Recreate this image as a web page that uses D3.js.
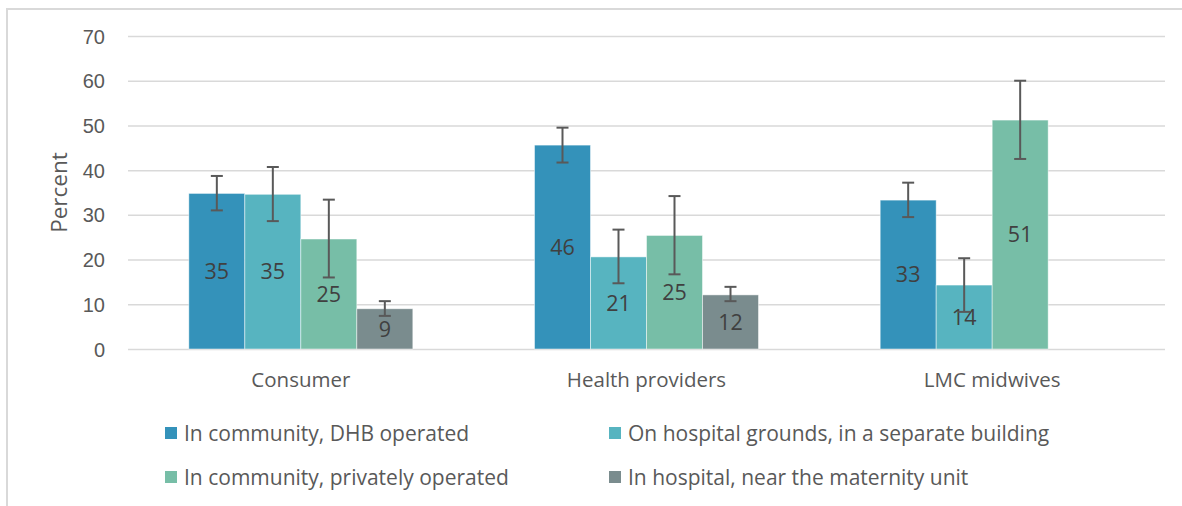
<!DOCTYPE html>
<html>
<head>
    <meta charset="utf-8">
    <style type="text/css">
        body { margin: 0; background: #fff; }
        svg { display: block; font-family: "Open Sans", sans-serif; }
        .grid line { stroke: #d9d9d9; stroke-width: 1.5px; }
        .grid path { display: none; }
        .grid text { font-size: 20px; fill: #595959; }
        .catLabel { font-size: 20.5px; fill: #595959; text-anchor: middle; }
        .valLabel { font-size: 21.5px; fill: #404040; text-anchor: middle; }
        .legend text { font-size: 21px; fill: #595959; }
    </style>
    <script src="https://d3js.org/d3.v7.min.js"></script>
</head>
<body>
    <svg id="mySvg" width="1182" height="506"></svg>
</body>
<script type="text/javascript">
// categories and series
const categories = ['Consumer', 'Health providers', 'LMC midwives'];
const seriesNames = [
    'In community, DHB operated',
    'On hospital grounds, in a separate building',
    'In community, privately operated',
    'In hospital, near the maternity unit'
];
const seriesColors = ['#3492ba', '#57b4c0', '#77bea7', '#7a8c8e'];

// one array per series, values in category order (null = no bar)
const dhbCommunity   = [34.8, 45.6, 33.3];
const hospitalGround = [34.6, 20.6, 14.3];
const privCommunity  = [24.6, 25.4, 51.2];
const nearMaternity  = [9.0, 12.1, null];

// error bar ends
const errLow  = [[31.0, 41.7, 29.5], [28.6, 14.7, 8.3], [16.0, 16.7, 42.5], [7.4, 10.7, null]];
const errHigh = [[38.7, 49.5, 37.2], [40.7, 26.7, 20.3], [33.4, 34.2, 60.0], [10.7, 13.9, null]];

const yTicks = [0, 10, 20, 30, 40, 50, 60, 70];

const seriesValues = [dhbCommunity, hospitalGround, privCommunity, nearMaternity];

// flatten into records for binding
const records = [];
seriesValues.forEach((vals, s) => {
    vals.forEach((v, c) => {
        if (v === null) return;
        records.push({ series: s, cat: categories[c], value: v, lo: errLow[s][c], hi: errHigh[s][c] });
    });
});

const svg = d3.select('#mySvg');

// frame around the chart area
svg.append('path')
    .attr('d', 'M7,506 V9 H1182')
    .attr('fill', 'none')
    .attr('stroke', '#d9d9d9')
    .attr('stroke-width', 2);

const plot = { left: 128, right: 1165, top: 36, bottom: 349 };

const x = d3.scaleBand()
    .domain(categories)
    .range([plot.left, plot.right])
    .paddingInner(0)
    .paddingOuter(0);

const groupWidth = 224; // four bars side by side
const xInner = d3.scaleBand()
    .domain(d3.range(seriesNames.length))
    .range([0, groupWidth]);

const y = d3.scaleLinear()
    .domain([0, 70])
    .range([plot.bottom, plot.top]);

// gridlines + tick labels
svg.append('g')
    .attr('class', 'grid')
    .attr('transform', 'translate(' + plot.left + ',0)')
    .call(d3.axisLeft(y)
        .tickValues(yTicks)
        .tickSize(-(plot.right - plot.left))
        .tickPadding(23)
        .tickFormat(d3.format('d')))
    .call(g => g.selectAll('text').attr('dy', '0.35em'));

// axis title
svg.append('text')
    .attr('transform', 'translate(67,' + ((plot.top + plot.bottom) / 2 + 0) + ') rotate(-90)')
    .attr('text-anchor', 'middle')
    .attr('font-size', '22.5px')
    .attr('fill', '#595959')
    .text('Percent');

const barX = d => x(d.cat) + x.bandwidth() / 2 - groupWidth / 2 + xInner(d.series);

// bars
svg.append('g')
    .selectAll('rect')
    .data(records)
    .join('rect')
    .attr('x', barX)
    .attr('y', d => y(d.value))
    .attr('width', xInner.bandwidth())
    .attr('height', d => y(0) - y(d.value))
    .attr('fill', d => seriesColors[d.series])
    .attr('stroke', 'rgba(255,255,255,0.6)')
    .attr('stroke-width', 0.8);

// value labels in the middle of each bar
svg.append('g')
    .selectAll('text')
    .data(records)
    .join('text')
    .attr('class', 'valLabel')
    .attr('x', d => barX(d) + xInner.bandwidth() / 2)
    .attr('y', d => (y(d.value) + y(0)) / 2)
    .attr('dy', '0.36em')
    .text(d => d3.format('.0f')(d.value));

// error bars
const capHalf = 6;
const err = svg.append('g')
    .attr('stroke', '#595959')
    .attr('stroke-width', 2)
    .selectAll('g')
    .data(records)
    .join('g')
    .attr('transform', d => 'translate(' + (barX(d) + xInner.bandwidth() / 2) + ',0)');
err.append('line')
    .attr('y1', d => y(d.lo))
    .attr('y2', d => y(d.hi));
err.append('line')
    .attr('x1', -capHalf).attr('x2', capHalf)
    .attr('y1', d => y(d.hi)).attr('y2', d => y(d.hi));
err.append('line')
    .attr('x1', -capHalf).attr('x2', capHalf)
    .attr('y1', d => y(d.lo)).attr('y2', d => y(d.lo));

// category labels
svg.append('g')
    .selectAll('text')
    .data(categories)
    .join('text')
    .attr('class', 'catLabel')
    .attr('x', d => x(d) + x.bandwidth() / 2)
    .attr('y', 387)
    .text(d => d);

// legend, two columns by two rows
const legCol = d3.scalePoint().domain([0, 1]).range([165, 609]);
const legRow = d3.scalePoint().domain([0, 1]).range([433, 477]);
const legend = svg.append('g')
    .attr('class', 'legend')
    .selectAll('g')
    .data(seriesNames)
    .join('g')
    .attr('transform', (d, i) => 'translate(' + legCol(i % 2) + ',' + legRow(Math.floor(i / 2)) + ')');
legend.append('rect')
    .attr('x', 0)
    .attr('y', -6)
    .attr('width', 12)
    .attr('height', 12)
    .attr('fill', (d, i) => seriesColors[i]);
legend.append('text')
    .attr('x', 19)
    .attr('dy', '0.36em')
    .text(d => d);
</script>
</html>
